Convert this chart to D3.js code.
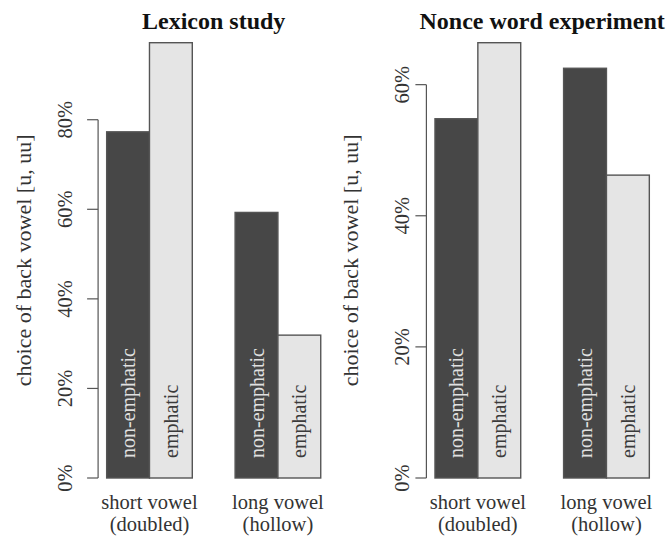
<!DOCTYPE html>
<html><head><meta charset="utf-8">
<script src="https://cdn.jsdelivr.net/npm/d3@7/dist/d3.min.js"></script>
<style>body{margin:0;background:#fff}svg{display:block}text{font-family:"Liberation Serif","Times New Roman",serif}</style>
</head><body><svg id="c" width="671" height="537"></svg>
<script>
const categories = [["short vowel", "(doubled)"], ["long vowel", "(hollow)"]];
const seriesNames = ["non-emphatic", "emphatic"];
const titles = ["Lexicon study", "Nonce word experiment"];
const yLabel = "choice of back vowel [u, uu]";
const lexiconValues = [[77.3, 97.2], [59.3, 31.9]];
const nonceValues = [[54.8, 66.4], [62.5, 46.2]];
const lexiconTicks = [0, 20, 40, 60, 80];
const nonceTicks = [0, 20, 40, 60];

const svg = d3.select("#c");
const fills = ["#474747", "#e5e5e5"];
const textFills = ["#e0e0e0", "#3a3a3a"];

const panels = [
  {title: titles[0], values: lexiconValues, ticks: lexiconTicks, xr: [98.1, 329.3], axisX: 98.1, ylabX: 31, tickLabX: 72},
  {title: titles[1], values: nonceValues, ticks: nonceTicks, xr: [426.4, 657.9], axisX: 426.4, ylabX: 358, tickLabX: 409}
];

panels.forEach(p => {
  const g = svg.append("g");
  const ymax = d3.max(p.values.flat());
  const y = d3.scaleLinear().domain([0, ymax]).range([478, 42.7]);
  const x = d3.scaleLinear().domain([0.8, 6.2]).range(p.xr);
  // bars (R barplot beside: space = c(0,1))
  p.values.forEach((grp, gi) => {
    grp.forEach((v, si) => {
      const left = 1 + gi * 3 + si;
      g.append("rect")
        .attr("x", x(left)).attr("y", y(v))
        .attr("width", x(left + 1) - x(left)).attr("height", y(0) - y(v))
        .attr("fill", fills[si]).attr("stroke", "#555").attr("stroke-width", 1.4);
      const cx = (x(left) + x(left + 1)) / 2;
      g.append("text")
        .attr("transform", `translate(${cx},${y(0) - 20}) rotate(-90)`)
        .attr("dy", "0.35em").attr("text-anchor", "start")
        .attr("font-size", 20).attr("fill", textFills[si])
        .text(seriesNames[si]);
    });
    const gc = x(1 + gi * 3 + 1);
    categories[gi].forEach((line, li) => {
      g.append("text").attr("x", gc).attr("y", 508.5 + li * 22.5)
        .attr("text-anchor", "middle").attr("font-size", 20.5).attr("fill", "#333")
        .text(line);
    });
  });
  // y axis (R style)
  const ax = g.append("g").attr("stroke", "#555").attr("stroke-width", 1.2);
  ax.append("line").attr("x1", p.axisX).attr("x2", p.axisX)
    .attr("y1", y(p.ticks[0])).attr("y2", y(p.ticks[p.ticks.length - 1]));
  p.ticks.forEach(t => {
    ax.append("line").attr("x1", p.axisX - 11).attr("x2", p.axisX).attr("y1", y(t)).attr("y2", y(t));
    g.append("text")
      .attr("transform", `translate(${p.tickLabX},${y(t)}) rotate(-90)`)
      .attr("text-anchor", "middle").attr("font-size", 20.5).attr("fill", "#333")
      .text(t + "%");
  });
  g.append("text")
    .attr("transform", `translate(${p.ylabX},${(y(0) + y(ymax)) / 2}) rotate(-90)`)
    .attr("text-anchor", "middle").attr("font-size", 22).attr("fill", "#333")
    .text(yLabel);
  g.append("text").attr("x", (p.xr[0] + p.xr[1]) / 2).attr("y", 29)
    .attr("text-anchor", "middle").attr("font-size", 24).attr("font-weight", "bold").attr("fill", "#111")
    .text(p.title);
});
</script></body></html>
